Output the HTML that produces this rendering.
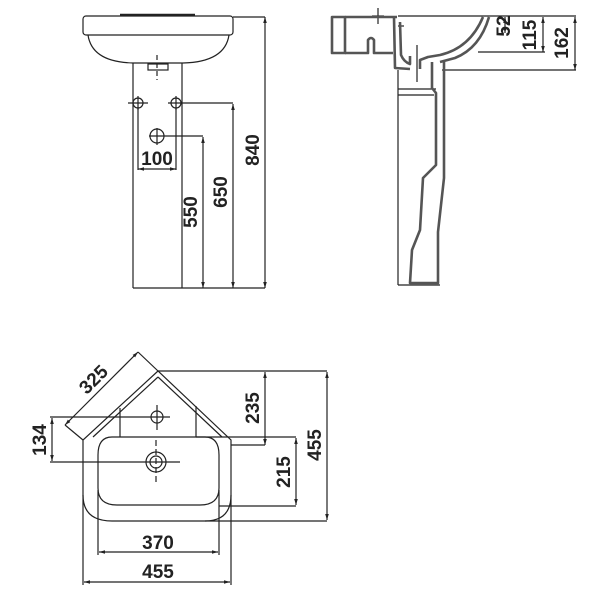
<!DOCTYPE html>
<html><head><style>body{margin:0;background:#fff}svg{display:block}
text{font-family:"Liberation Sans",sans-serif;font-weight:bold;font-size:19px;fill:#222}</style></head>
<body>
<svg width="600" height="600" viewBox="0 0 600 600" xmlns="http://www.w3.org/2000/svg">
<defs><marker id="a" viewBox="0 0 10 10" refX="10" refY="5" markerWidth="5" markerHeight="5" orient="auto-start-reverse"><path d="M0,2 L10,5 L0,8 z" fill="#222"/></marker></defs>
<g fill="none" stroke="#222" stroke-width="1.2">
<!-- front view -->
<rect x="83" y="16" width="150" height="19" rx="3"/>
<line x1="120" y1="15" x2="195" y2="15" stroke-width="2.5"/>
<path d="M88,35 Q92,62 133,63 L183,63 Q225,62 229,35"/>
<line x1="133" y1="63" x2="133" y2="288"/><line x1="182" y1="63" x2="182" y2="288"/>
<rect x="148" y="64" width="20" height="6"/>
<line x1="157" y1="55" x2="157" y2="80" stroke-dasharray="5,3"/>
<circle cx="138" cy="103" r="5"/><line x1="128" y1="103" x2="148" y2="103"/><line x1="138" y1="96" x2="138" y2="110"/>
<circle cx="176" cy="103" r="5"/><line x1="168" y1="103" x2="233" y2="103"/><line x1="176" y1="96" x2="176" y2="110"/>
<circle cx="157" cy="136" r="7"/><line x1="149" y1="136" x2="203" y2="136"/><line x1="157" y1="128" x2="157" y2="145"/>
<line x1="138" y1="108" x2="138" y2="170"/><line x1="176" y1="108" x2="176" y2="170"/>
<line x1="138" y1="169" x2="176" y2="169" marker-start="url(#a)" marker-end="url(#a)"/>
<line x1="203" y1="137" x2="203" y2="288" marker-start="url(#a)" marker-end="url(#a)"/>
<line x1="233" y1="104" x2="233" y2="288" marker-start="url(#a)" marker-end="url(#a)"/>
<line x1="233" y1="17" x2="265" y2="17"/>
<line x1="265" y1="17" x2="265" y2="288" marker-start="url(#a)" marker-end="url(#a)"/>
<line x1="133" y1="288" x2="265" y2="288"/>
<!-- side view -->
<line x1="398" y1="16" x2="576" y2="16"/>
<line x1="442" y1="70" x2="576" y2="70"/>
<line x1="478" y1="52" x2="545" y2="52"/>
<line x1="398" y1="70" x2="398" y2="285"/><line x1="398" y1="285" x2="440" y2="285"/>
<line x1="398" y1="89" x2="436" y2="89"/><line x1="398" y1="95" x2="434" y2="95"/>
<line x1="378" y1="8" x2="378" y2="24"/><line x1="372" y1="16" x2="384" y2="16"/>
<line x1="398" y1="26" x2="404" y2="26"/>
<line x1="417" y1="45" x2="417" y2="82"/>
<line x1="505" y1="17" x2="505" y2="33" marker-start="url(#a)" marker-end="url(#a)"/>
<line x1="543" y1="17" x2="543" y2="52" marker-start="url(#a)" marker-end="url(#a)"/>
<line x1="575" y1="17" x2="575" y2="70" marker-start="url(#a)" marker-end="url(#a)"/>
</g>
<g fill="none" stroke="#555" stroke-width="2.6" stroke-linejoin="round">
<rect x="332" y="17" width="13" height="36"/>
<path d="M345,17 L397,17"/>
<path d="M345,53 L368,53 L368,40 Q371,36 374,40 L374,53 L393,53"/>
<path d="M394,17 L395,68 L410,69"/>
<path d="M400,22 L401,55 Q404,62 410,64 L410,56"/>
<path d="M483,17 Q470,48 440,55 L428,57 L420,60 L420,69"/>
<path d="M489,17 Q480,48 455,58 L440,62"/>
<path d="M432,62 L432,88 L436,93 L436,165 L423,178 L420,230 L412,250 L410,283 L438,283 L438,232 L444,178 L444,62"/>
</g>
<g fill="none" stroke="#222" stroke-width="1.2">
<!-- plan view -->
<path d="M158,371 L83,440 L83,495 Q83,521 112,521 L205,521 Q231,521 231,495 L231,440 Z"/>
<path d="M158,377 L93,437 M158,377 L222,437"/>
<line x1="120" y1="408" x2="120" y2="437"/><line x1="196" y1="406" x2="196" y2="437"/>
<path d="M112,437 L205,437 Q219,437 219,455 L219,488 Q219,505 200,505 L117,505 Q98,505 98,488 L98,455 Q98,437 112,437 Z"/>
<circle cx="157" cy="417" r="6"/><line x1="50" y1="417" x2="170" y2="417"/><line x1="157" y1="405" x2="157" y2="430"/>
<circle cx="156" cy="462" r="10"/><circle cx="156" cy="462" r="6"/>
<line x1="50" y1="462" x2="180" y2="462"/><line x1="156" y1="440" x2="156" y2="485" stroke-dasharray="6,3"/>
<line x1="52" y1="418" x2="52" y2="461" marker-start="url(#a)" marker-end="url(#a)"/>
<line x1="65" y1="425" x2="138" y2="352" marker-start="url(#a)" marker-end="url(#a)"/>
<line x1="65" y1="425" x2="83" y2="440"/><line x1="138" y1="352" x2="158" y2="371"/>
<line x1="158" y1="371" x2="327" y2="371"/>
<line x1="231" y1="445" x2="265" y2="445"/>
<line x1="265" y1="372" x2="265" y2="445" marker-start="url(#a)" marker-end="url(#a)"/>
<line x1="196" y1="437" x2="296" y2="437"/><line x1="219" y1="506" x2="296" y2="506"/>
<line x1="296" y1="438" x2="296" y2="505" marker-start="url(#a)" marker-end="url(#a)"/>
<line x1="205" y1="521" x2="327" y2="521"/>
<line x1="327" y1="372" x2="327" y2="520" marker-start="url(#a)" marker-end="url(#a)"/>
<line x1="98" y1="490" x2="98" y2="555"/><line x1="219" y1="490" x2="219" y2="555"/>
<line x1="99" y1="552" x2="218" y2="552" marker-start="url(#a)" marker-end="url(#a)"/>
<line x1="83" y1="495" x2="83" y2="585"/><line x1="231" y1="495" x2="231" y2="585"/>
<line x1="84" y1="582" x2="230" y2="582" marker-start="url(#a)" marker-end="url(#a)"/>
</g>
<g>
<text x="157" y="165" text-anchor="middle">100</text>
<text transform="translate(197,212) rotate(-90)" text-anchor="middle">550</text>
<text transform="translate(227,192) rotate(-90)" text-anchor="middle">650</text>
<text transform="translate(259,150) rotate(-90)" text-anchor="middle">840</text>
<text transform="translate(510,26) rotate(-90)" text-anchor="middle">52</text>
<text transform="translate(536,35) rotate(-90)" text-anchor="middle">115</text>
<text transform="translate(568,43) rotate(-90)" text-anchor="middle">162</text>
<text transform="translate(98,384) rotate(-45)" text-anchor="middle">325</text>
<text transform="translate(46,440) rotate(-90)" text-anchor="middle">134</text>
<text transform="translate(259,408) rotate(-90)" text-anchor="middle">235</text>
<text transform="translate(290,472) rotate(-90)" text-anchor="middle">215</text>
<text transform="translate(321,445) rotate(-90)" text-anchor="middle">455</text>
<text x="158" y="549" text-anchor="middle">370</text>
<text x="158" y="578" text-anchor="middle">455</text>
</g>
</svg>
</body></html>
